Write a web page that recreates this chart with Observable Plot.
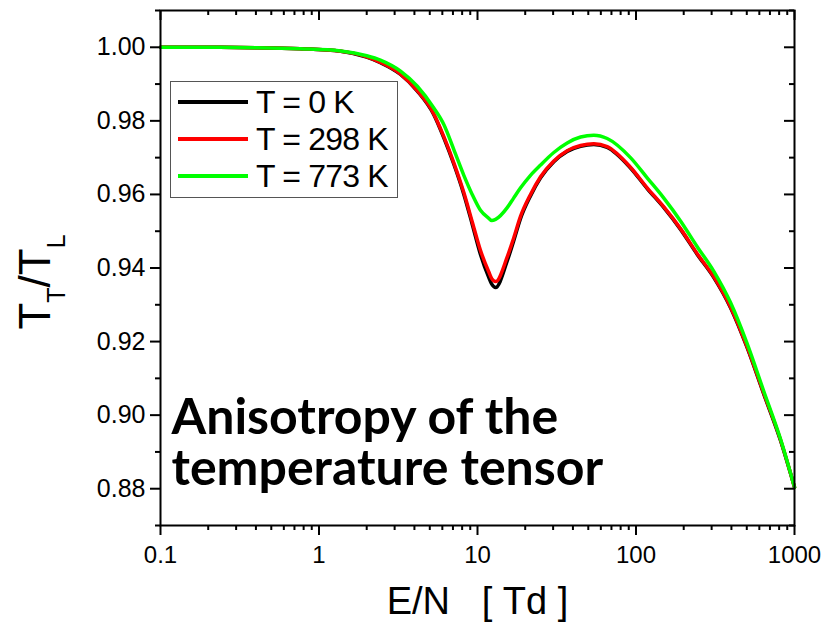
<!DOCTYPE html>
<html>
<head>
<meta charset="utf-8">
<script src="https://cdn.jsdelivr.net/npm/d3@7"></script>
<script src="https://cdn.jsdelivr.net/npm/@observablehq/plot@0.6"></script>
<style>
  html, body { margin: 0; padding: 0; background: #fff; }
  #chart { position: relative; width: 838px; height: 623px; overflow: hidden; }
</style>
</head>
<body>
<div id="chart"></div>
<script>
// ---- data ----
const E = [0.1, 0.2, 0.4, 0.76, 1.37, 2.0, 2.44, 3.27, 4.17, 5.3, 6.13, 7.09, 8.2, 9.26, 10.44, 11.79, 12.3, 13.0, 15.4, 16.9, 18.7, 21.6, 25.0, 30.3, 36.8, 44.7, 54.2, 65.8, 92.3, 117.6, 149.8, 190.9, 243.3, 309.7, 394.8, 502, 640, 816, 1000];
const t0   = [1.0000, 1.0000, 0.9999, 0.9996, 0.9989, 0.9973, 0.9958, 0.9926, 0.9881, 0.9817, 0.9754, 0.9682, 0.9600, 0.9519, 0.9437, 0.9374, 0.9356, 0.9347, 0.9419, 0.9473, 0.9535, 0.9596, 0.9645, 0.9689, 0.9717, 0.9731, 0.9736, 0.9728, 0.9672, 0.9616, 0.9564, 0.9505, 0.9437, 0.9374, 0.9292, 0.9184, 0.9057, 0.8931, 0.8804];
const t298 = [1.0000, 1.0000, 0.9999, 0.9996, 0.9989, 0.9974, 0.9959, 0.9927, 0.9882, 0.9819, 0.9757, 0.9686, 0.9605, 0.9526, 0.9448, 0.9389, 0.9371, 0.9363, 0.9430, 0.9481, 0.9541, 0.9600, 0.9648, 0.9691, 0.9719, 0.9733, 0.9738, 0.9730, 0.9674, 0.9618, 0.9566, 0.9507, 0.9439, 0.9376, 0.9294, 0.9186, 0.9059, 0.8933, 0.8804];
const t773 = [1.0000, 1.0000, 0.9999, 0.9996, 0.9990, 0.9977, 0.9965, 0.9935, 0.9894, 0.9835, 0.9790, 0.9722, 0.9652, 0.9600, 0.9557, 0.9535, 0.9529, 0.9532, 0.9564, 0.9590, 0.9618, 0.9652, 0.9680, 0.9714, 0.9740, 0.9756, 0.9761, 0.9752, 0.9700, 0.9645, 0.9590, 0.9528, 0.9458, 0.9391, 0.9306, 0.9195, 0.9065, 0.8935, 0.8804];

const seriesNames = ["T = 0 K", "T = 298 K", "T = 773 K"];
const seriesColors = ["#000000", "#ff0000", "#00ff00"];

const xTicks = [0.1, 1, 10, 100, 1000];
const xTickLabels = ["0.1", "1", "10", "100", "1000"];
const xMinorTicks = [0.2,0.3,0.4,0.5,0.6,0.7,0.8,0.9, 2,3,4,5,6,7,8,9, 20,30,40,50,60,70,80,90, 200,300,400,500,600,700,800,900];
const yTicks = [0.88, 0.90, 0.92, 0.94, 0.96, 0.98, 1.00];
const yTickLabels = ["0.88", "0.90", "0.92", "0.94", "0.96", "0.98", "1.00"];
const yMinorTicks = [0.87, 0.89, 0.91, 0.93, 0.95, 0.97, 0.99, 1.01];

const xLabel = "E/N\u00a0\u00a0\u00a0[\u00a0Td\u00a0]";
const annotation = "Anisotropy of the\ntemperature tensor";

// ---- table ----
const seriesValues = [t0, t298, t773];
const rows = seriesNames.flatMap((s, i) => E.map((e, j) => ({E: e, v: seriesValues[i][j], s})));

// ---- layout ----
const W = 838, H = 623, mL = 160, mR = 44, mT = 10, mB = 98;
const iw = W - mL - mR, ih = H - mT - mB;
const major = 10, minor = 5;
const font = "'Liberation Sans', Arial, sans-serif";
const tk = {stroke: "black", strokeWidth: 2};

const plot = Plot.plot({
  width: W,
  height: H,
  marginLeft: mL,
  marginRight: mR,
  marginTop: mT,
  marginBottom: mB,
  style: {fontFamily: font},
  x: {type: "log", domain: [0.1, 1000], axis: null},
  y: {domain: [0.87, 1.01], axis: null},
  color: {domain: seriesNames, range: seriesColors},
  marks: [
    Plot.line(rows, {x: "E", y: "v", stroke: "s", z: "s", strokeWidth: 3.5, curve: "monotone-x"}),
    Plot.frame({stroke: "black", strokeWidth: 2}),
    // bottom (outward) and top (inward) ticks
    Plot.tickX(xTicks, {x: d => d, insetTop: ih, insetBottom: -major, ...tk}),
    Plot.tickX(xMinorTicks, {x: d => d, insetTop: ih, insetBottom: -minor, ...tk}),
    Plot.tickX(xTicks, {x: d => d, insetBottom: ih - major, ...tk}),
    Plot.tickX(xMinorTicks, {x: d => d, insetBottom: ih - minor, ...tk}),
    // left (outward) and right (inward) ticks
    Plot.tickY(yTicks, {y: d => d, insetRight: iw, insetLeft: -major, ...tk}),
    Plot.tickY(yMinorTicks, {y: d => d, insetRight: iw, insetLeft: -minor, ...tk}),
    Plot.tickY(yTicks, {y: d => d, insetLeft: iw - major, ...tk}),
    Plot.tickY(yMinorTicks, {y: d => d, insetLeft: iw - minor, ...tk}),
    // tick labels
    Plot.text(xTicks, {x: d => d, text: (d, i) => xTickLabels[i], frameAnchor: "bottom", lineAnchor: "top",
      dy: major + 10, fontSize: 24, fill: "black"}),
    Plot.text(yTicks, {y: d => d, text: (d, i) => yTickLabels[i], frameAnchor: "left", textAnchor: "end",
      dx: -(major + 5), fontSize: 25, fill: "black"}),
    // x label
    Plot.text([xLabel], {frameAnchor: "bottom", lineAnchor: "bottom", dy: 88, fontSize: 38, fill: "black"}),
    // annotation
    Plot.text([annotation], {frameAnchor: "bottom-left", textAnchor: "start", lineAnchor: "bottom",
      dx: 11, dy: -41, fontSize: 50, lineHeight: 51 / 50, fontWeight: "bold",
      fontFamily: "Lato, 'Open Sans', sans-serif", fill: "black"})
  ]
});

document.getElementById("chart").appendChild(plot);
const svg = d3.select(plot);

// ---- y-axis label with subscripts ----
const yl = svg.append("text")
  .attr("transform", "translate(50,282) rotate(-90)")
  .attr("text-anchor", "middle")
  .attr("font-family", font)
  .attr("font-size", 44)
  .attr("fill", "black");
yl.append("tspan").text("T");
yl.append("tspan").attr("font-size", 25).attr("dy", 15).text("T");
yl.append("tspan").attr("dy", -15).text("/T");
yl.append("tspan").attr("font-size", 25).attr("dy", 15).text("L");

// ---- legend ----
const lg = svg.append("g").attr("font-family", font).attr("text-anchor", "start");
lg.append("rect").attr("x", 170.5).attr("y", 81.5).attr("width", 227).attr("height", 116)
  .attr("fill", "white").attr("stroke", "#555").attr("stroke-width", 1);
seriesNames.forEach((name, i) => {
  const cy = 102 + i * 37;
  lg.append("line").attr("x1", 178).attr("x2", 248).attr("y1", cy).attr("y2", cy)
    .attr("stroke", seriesColors[i]).attr("stroke-width", 4);
  lg.append("text").attr("x", 256).attr("y", cy + 11).attr("font-size", 32)
    .attr("text-anchor", "start").attr("letter-spacing", -0.8).attr("fill", "black").text(name);
});
</script>
</body>
</html>
